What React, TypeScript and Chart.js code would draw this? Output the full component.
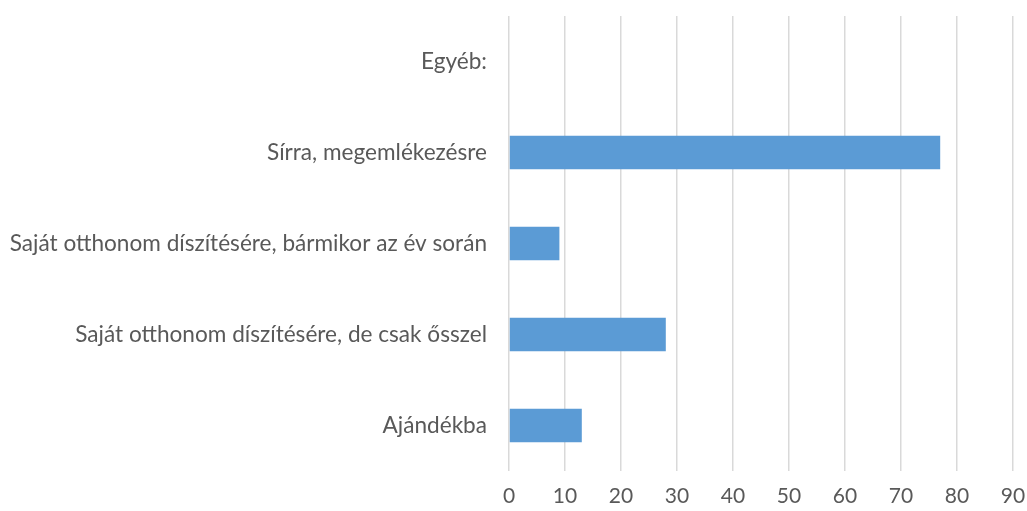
import React, { useEffect, useRef } from "react";
import { Chart, registerables } from "chart.js";

Chart.register(...registerables);

const categories = [
  "Egyéb:",
  "Sírra, megemlékezésre",
  "Saját otthonom díszítésére, bármikor az év során",
  "Saját otthonom díszítésére, de csak ősszel",
  "Ajándékba",
];
const values = [0, 77, 9, 28, 13];
const xMin = 0;
const xMax = 90;
const xStep = 10;

export default function App() {
  const ref = useRef<HTMLCanvasElement>(null);
  useEffect(() => {
    if (!ref.current) return;
    const family = "Lato, 'Open Sans', sans-serif";
    const chart = new Chart(ref.current, {
      type: "bar",
      data: {
        labels: categories,
        datasets: [
          {
            data: values,
            backgroundColor: "#5B9BD5",
            borderWidth: 0,
            barPercentage: 0.37,
            categoryPercentage: 1,
          },
        ],
      },
      options: {
        indexAxis: "y",
        animation: false,
        responsive: true,
        maintainAspectRatio: false,
        layout: { padding: { top: 16, right: 0, left: 8, bottom: 0 } },
        plugins: { legend: { display: false }, tooltip: { enabled: false } },
        scales: {
          x: {
            min: xMin,
            max: xMax,
            ticks: { stepSize: xStep, color: "#595959", font: { family, size: 21 }, padding: 13 },
            grid: { color: "#d9d9d9", lineWidth: 1.5, drawTicks: false },
            border: { display: false },
            afterFit: (scale: any) => {
              scale.paddingRight = 14;
              scale.paddingLeft = 0;
              scale.height = 40;
            },
          },
          y: {
            ticks: { color: "#595959", font: { family, size: 22.6 }, padding: 22 },
            grid: { display: false, drawTicks: false },
            border: { display: false },
            afterFit: (scale: any) => {
              scale.paddingTop = 0;
              scale.paddingBottom = 0;
              scale.width = 501;
            },
          },
        },
      },
    });
    return () => chart.destroy();
  }, []);
  return (
    <div style={{ position: "fixed", left: 0, top: 0, width: 1027, height: 511, background: "#fff" }}>
      <canvas ref={ref} />
    </div>
  );
}
